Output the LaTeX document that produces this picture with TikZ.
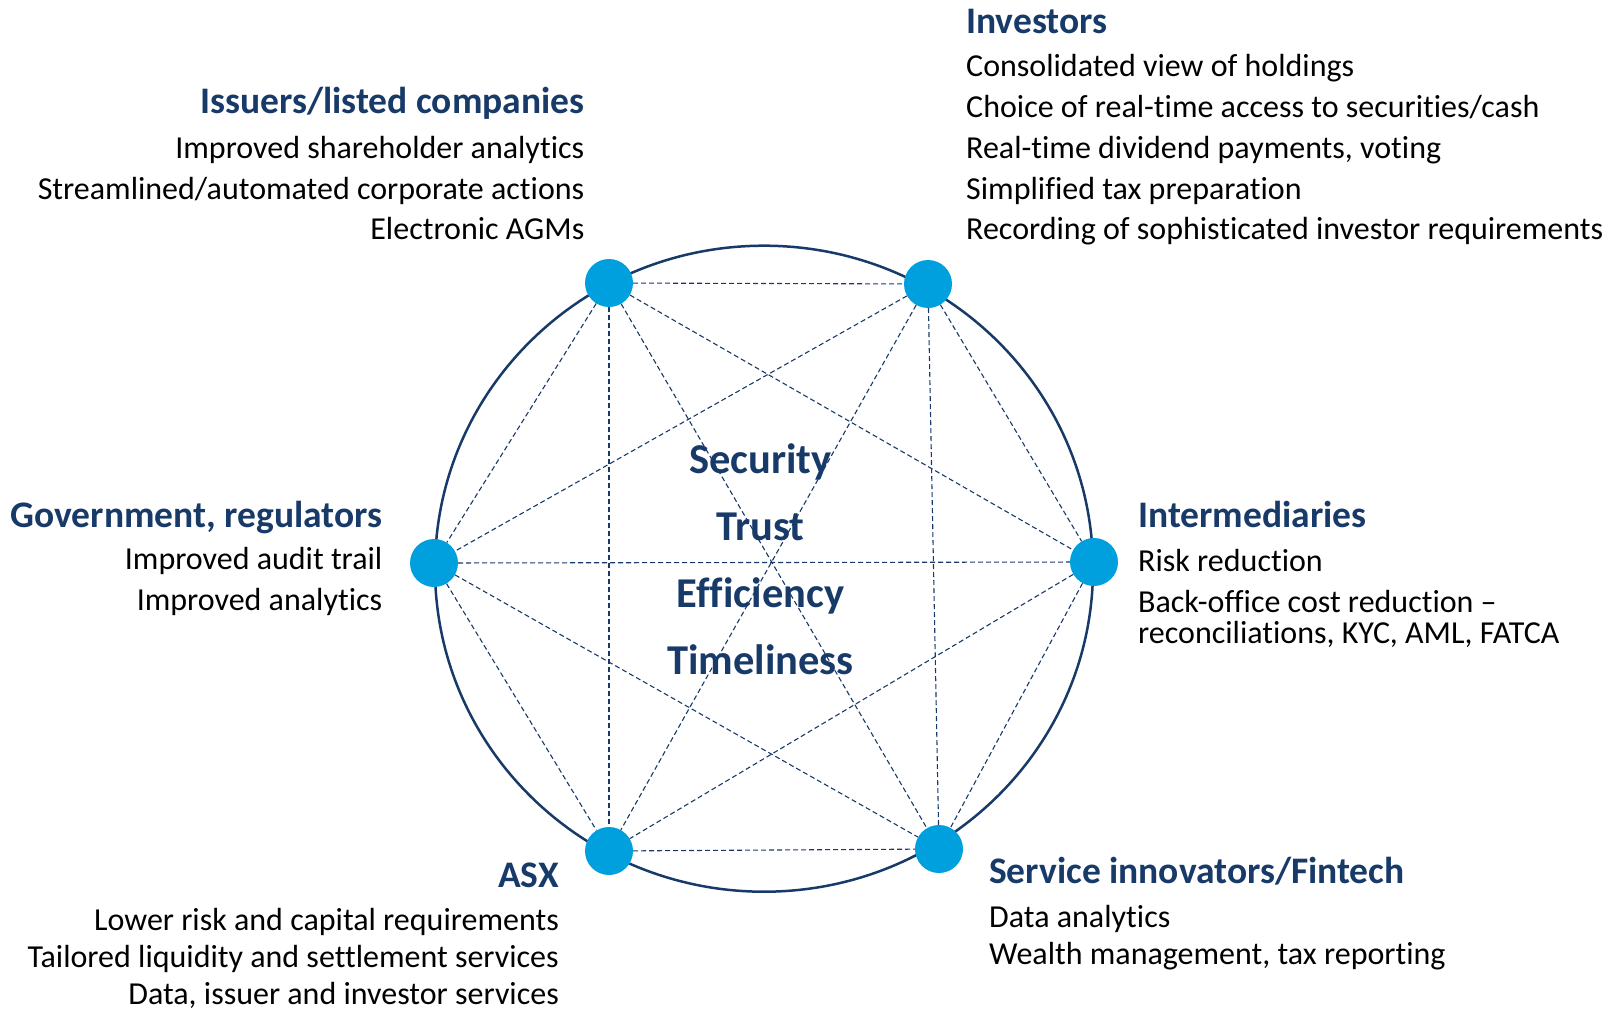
\documentclass[tikz,border=0pt]{standalone}
\usepackage{fontspec}
\setmainfont{Carlito}[Ligatures=NoCommon]
\definecolor{asxnavy}{RGB}{24,58,104}
\definecolor{dotblue}{RGB}{0,160,223}
\tikzset{
  party/.style={circle, fill=dotblue, inner sep=0pt, minimum size=48pt},
  link/.style={asxnavy, line width=1.1pt, dash pattern=on 5pt off 3pt},
  head/.style={font=\fontsize{37.5}{44}\selectfont\bfseries, text=asxnavy, inner sep=0pt},
  item/.style={font=\fontsize{32}{38}\selectfont, inner sep=0pt},
  core/.style={font=\fontsize{42.5}{50}\selectfont\bfseries, text=asxnavy, inner sep=0pt, anchor=base},
}

\begin{document}
\begin{tikzpicture}[x=1pt,y=-1pt]
\useasboundingbox (0,0) rectangle (1616,1011);
\draw[asxnavy, line width=2.5pt] (764,568.7) ellipse [x radius=329pt, y radius=323pt];
\node[party] (iss) at (609,283) {};
\node[party] (inv) at (928,284) {};
\node[party] (gov) at (434,563) {};
\node[party] (int) at (1094,562) {};
\node[party] (asx) at (609,851) {};
\node[party] (svc) at (939,849) {};
\foreach \a/\b in {iss/inv,iss/gov,iss/int,iss/asx,iss/svc,inv/gov,inv/int,inv/asx,inv/svc,
  gov/int,gov/asx,gov/svc,int/asx,int/svc,asx/svc}
  \draw[link] (\a) -- (\b);
% centre
\foreach \w [count=\i from 0] in {Security,Trust,Efficiency,Timeliness}
  \node[core] (core\i) at (760.5,473.4+67*\i) {\w};
% Investors
\node[head, anchor=base west] (invhead) at (966,33.3) {Investors};
\foreach \t [count=\i from 0] in {Consolidated view of holdings,Choice of real-time access to securities/cash,
  {Real-time dividend payments, voting},Simplified tax preparation,Recording of sophisticated investor requirements}
  \node[item, anchor=base west] (inv\i) at (966,77+40.7*\i) {\t};
% Issuers
\node[head, anchor=base east] (isshead) at (584.5,113.3) {Issuers/listed companies};
\foreach \t [count=\i from 0] in {Improved shareholder analytics,Streamlined/automated corporate actions,Electronic AGMs}
  \node[item, anchor=base east] (iss\i) at (584.5,159+40.2*\i) {\t};
% Government
\node[head, anchor=base east] (govhead) at (382.5,527) {Government, regulators};
\node[item, anchor=base east] (gov0) at (382.5,569) {Improved audit trail};
\node[item, anchor=base east] (gov1) at (382.5,610) {Improved analytics};
% Intermediaries
\node[head, anchor=base west] (inthead) at (1138,527) {Intermediaries};
\node[item, anchor=base west] (int0) at (1138,571) {Risk reduction};
\node[item, anchor=base west] (int1) at (1138,612) {Back-office cost reduction –};
\node[item, anchor=base west] (int2) at (1138,643) {reconciliations, KYC, AML, FATCA};
% ASX
\node[head, anchor=base east] (asxhead) at (559,887) {ASX};
\foreach \t [count=\i from 0] in {Lower risk and capital requirements,Tailored liquidity and settlement services,
  {Data, issuer and investor services}}
  \node[item, anchor=base east] (asx\i) at (559,930+37*\i) {\t};
% Service innovators
\node[head, anchor=base west] (svchead) at (989,883) {Service innovators/Fintech};
\node[item, anchor=base west] (svc0) at (989,927) {Data analytics};
\node[item, anchor=base west] (svc1) at (989,964) {Wealth management, tax reporting};
\end{tikzpicture}
\end{document}
